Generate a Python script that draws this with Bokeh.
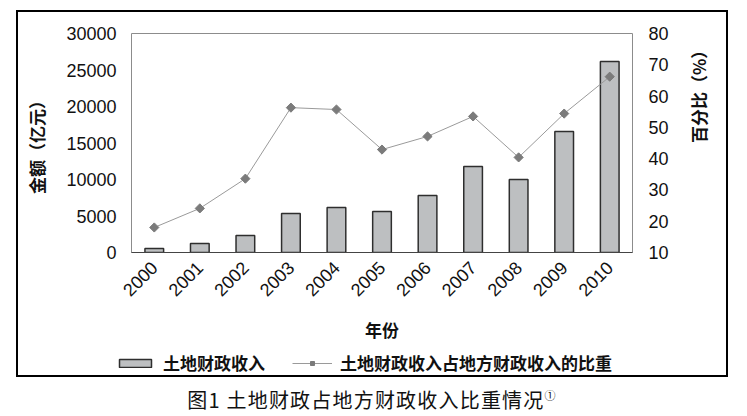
import math
from bokeh.plotting import figure
from bokeh.models import (Range1d, LinearAxis, Legend, LegendItem, Div,
                          ColumnDataSource, FactorRange, FixedTicker)
from bokeh.layouts import column
from bokeh.embed import file_html
from bokeh.resources import INLINE

# ---- data ----
years = ["2000", "2001", "2002", "2003", "2004", "2005",
         "2006", "2007", "2008", "2009", "2010"]
land_revenue = [550, 1230, 2330, 5340, 6160, 5620, 7810, 11780, 10000, 16580, 26160]  # 亿元
share_pct = [18.0, 24.1, 33.6, 56.3, 55.7, 42.9, 47.1, 53.5, 40.4, 54.4, 66.2]         # %
left_ticks = [0, 5000, 10000, 15000, 20000, 25000, 30000]
right_ticks = [10, 20, 30, 40, 50, 60, 70, 80]

left_title = "金额（亿元）"
right_title = "百分比（%）"
x_title = "年份"
bar_name = "土地财政收入"
line_name = "土地财政收入占地方财政收入的比重"
caption = "图1 土地财政占地方财政收入比重情况"

LAT = "Liberation Sans"
CJK = "Noto Sans CJK SC"

BAR_FILL, BAR_LINE = "#bdbfc1", "#2e2e2e"
LINE_COL, MARK_COL = "#9a9a9a", "#7b7b7b"

src = ColumnDataSource(dict(year=years, revenue=land_revenue, share=share_pct))


def draw_series(fig):
    b = fig.vbar(x="year", top="revenue", bottom=0, width=0.41, source=src,
                 fill_color=BAR_FILL, line_color=BAR_LINE, line_width=1.5)
    l = fig.line(x="year", y="share", y_range_name="pct", source=src,
                 line_color=LINE_COL, line_width=1)
    s = fig.scatter(x="year", y="share", y_range_name="pct", source=src,
                    marker="square", angle=math.pi / 4, size=6.5,
                    fill_color=MARK_COL, line_color=MARK_COL)
    return b, l, s


# ---------------- main chart ----------------
p = figure(x_range=FactorRange(*years), y_range=Range1d(0, 30000),
           width=708, height=338, output_backend="svg", toolbar_location=None,
           min_border_left=113, min_border_right=77, min_border_top=21,
           min_border_bottom=98)
p.extra_y_ranges = {"pct": Range1d(10, 80)}

p.xgrid.grid_line_color = None
p.ygrid.grid_line_color = None
p.outline_line_color = "#8c8c8c"
p.outline_line_width = 1
p.background_fill_color = "white"
p.border_fill_color = None

draw_series(p)


def style_axis(ax):
    ax.axis_label_text_font = CJK
    ax.axis_label_text_font_size = "17px"
    ax.axis_label_text_font_style = "bold"
    ax.axis_label_text_color = "#111"
    ax.major_label_text_font = LAT
    ax.major_label_text_font_size = "18px"
    ax.major_label_text_color = "#111"
    ax.major_tick_line_color = None
    ax.minor_tick_line_color = None
    ax.major_tick_out = 0
    ax.major_tick_in = 0
    ax.minor_tick_out = 0
    ax.minor_tick_in = 0


ya = p.yaxis[0]
ya.ticker = FixedTicker(ticks=left_ticks)
ya.axis_label = left_title
style_axis(ya)
ya.axis_label_standoff = 14
ya.major_label_standoff = 15
ya.axis_line_color = None

ra = LinearAxis(y_range_name="pct", ticker=FixedTicker(ticks=right_ticks),
                axis_label=right_title)
style_axis(ra)
ra.axis_label_orientation = math.pi / 2
ra.axis_label_standoff = 27
ra.major_label_standoff = 16
ra.axis_line_color = None
p.add_layout(ra, "right")

xa = p.xaxis[0]
xa.axis_label = x_title
style_axis(xa)
xa.axis_label_standoff = 12
xa.major_label_orientation = math.pi / 4
xa.major_label_standoff = 12
xa.axis_line_color = "#444"
xa.axis_line_width = 1

# ---------------- legend strip (inside the same outer box) ----------------
# The same series are attached here (hidden) only so the legend can show their swatches.
lg = figure(width=708, height=25, x_range=FactorRange(*years), y_range=Range1d(-2, -1),
            x_axis_type=None, y_axis_type=None, output_backend="svg",
            toolbar_location=None, min_border=0, min_border_left=0,
            min_border_right=0, min_border_top=0, min_border_bottom=0)
lg.extra_y_ranges = {"pct": Range1d(-2, -1)}
lg.outline_line_color = None
lg.background_fill_color = None
lg.border_fill_color = None
lb, ll, ls = draw_series(lg)
for r in (lb, ll, ls):
    r.visible = False

can_unalign = "frame_align" in lg.properties()
if can_unalign:
    lg.frame_align = False
    p.frame_align = False
    leg_loc, leg_spacing = (97, 0), 27
else:
    leg_loc, leg_spacing = (0, 0), 23

legend = Legend(items=[LegendItem(label=bar_name, renderers=[lb]),
                       LegendItem(label=line_name, renderers=[ll, ls])],
                location=leg_loc, orientation="horizontal",
                glyph_width=40, glyph_height=10, label_standoff=8, spacing=leg_spacing,
                padding=0, margin=0, border_line_color=None,
                background_fill_alpha=0,
                label_text_font=CJK, label_text_font_size="17px",
                label_text_font_style="bold", label_text_color="#111")
if "inactive_fill_alpha" in legend.properties():
    legend.inactive_fill_alpha = 0
lg.add_layout(legend)

boxed = column(p, lg, margin=(10, 0, 0, 16),
               styles={"border": "2px solid #000", "box-sizing": "content-box"})

cap = Div(text=caption + "<sup style='font-size:11px'>①</sup>",
          width=712, height=16, margin=(10, 0, 0, 16),
          styles={"font-family": CJK, "font-size": "20px", "letter-spacing": "1.2px",
                  "text-align": "center", "line-height": "16px", "color": "#111",
                  "white-space": "nowrap"})

layout = column(boxed, cap)
open("out.html", "w").write(file_html(layout, INLINE))
